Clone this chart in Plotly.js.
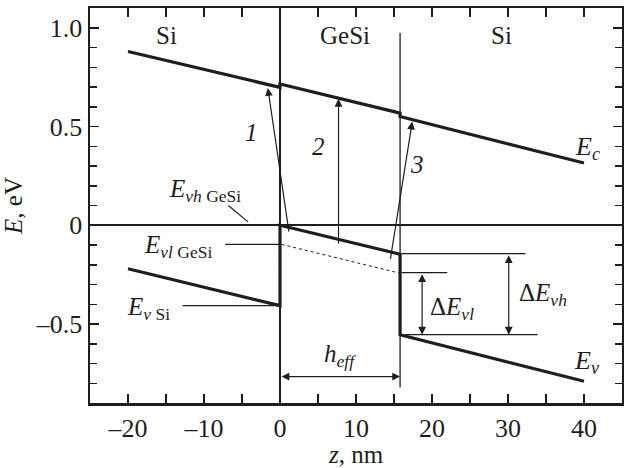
<!DOCTYPE html>
<html>
<head>
<meta charset="utf-8">
<script src="https://cdn.plot.ly/plotly-3.0.1.min.js"></script>
<style>html,body{margin:0;padding:0;background:#fff;}#chart{width:624px;height:468px;}</style>
</head>
<body>
<div id="chart"></div>
<script>
// Conduction band E_c (Si | GeSi | Si)
const ecZ = [-20, 0, 0, 15.8, 15.8, 40];
const ecE = [0.88, 0.698, 0.715, 0.568, 0.551, 0.315];
// Valence band E_v (heavy holes in GeSi)
const evZ = [-20, 0, 0, 15.8, 15.8, 40];
const evE = [-0.22, -0.407, 0, -0.147, -0.555, -0.79];
// Light-hole valence band in GeSi (dotted)
const evlZ = [0.2, 15.8];
const evlE = [-0.097, -0.243];
// Right interface line
const ifaceZ = [15.8, 15.8];
const ifaceE = [0.975, -0.82];
// Reference levels of the band offsets
const dEvlTopZ = [16, 22];       const dEvlTopE = [-0.24, -0.24];
const dEvhTopZ = [16, 32.3];     const dEvhTopE = [-0.144, -0.144];
const dEvBotZ = [16.5, 33.9];    const dEvBotE = [-0.554, -0.554];
// Leader lines for labels
const leadVhZ = [-6.8, -4.2];    const leadVhE = [0.10, 0.017];
const leadVlZ = [-7.2, 0];       const leadVlE = [-0.097, -0.097];
const leadVSiZ = [-12.8, 0];     const leadVSiE = [-0.407, -0.407];
// Optical transitions 1, 2, 3: [from z, from E, to z, to E]
const trans1 = [1.2, -0.04, -1.6, 0.695];
const trans2 = [7.7, -0.10, 7.7, 0.64];
const trans3 = [14.5, -0.178, 17.4, 0.525];
// Double arrows: [z1, E1, z2, E2]
const heffArrow = [0, -0.766, 15.8, -0.766];
const dEvlArrow = [18.7, -0.24, 18.7, -0.554];
const dEvhArrow = [30.1, -0.144, 30.1, -0.554];
// Ticks
const xTickVals = [-20, -10, 0, 10, 20, 30, 40];
const xTickText = ['\u201320', '\u201310', '0', '10', '20', '30', '40'];
const yTickVals = [-0.5, 0, 0.5, 1.0];
const yTickText = ['\u20130.5', '0', '0.5', '1.0'];

const ink = '#1e1e1e';
const font = 'Liberation Serif';

function seg(x, y, w, dash) {
  return {x: x, y: y, mode: 'lines', type: 'scatter', hoverinfo: 'skip',
          line: {color: ink, width: w, dash: dash || 'solid'}, showlegend: false};
}

const traces = [
  seg(ecZ, ecE, 3.2),
  seg(evZ, evE, 3.2),
  seg(evlZ, evlE, 1, 'dot'),
  seg(ifaceZ, ifaceE, 1.3),
  seg(dEvlTopZ, dEvlTopE, 1.3),
  seg(dEvhTopZ, dEvhTopE, 1.3),
  seg(dEvBotZ, dEvBotE, 1.3),
  seg(leadVhZ, leadVhE, 1.2),
  seg(leadVlZ, leadVlE, 1.2),
  seg(leadVSiZ, leadVSiE, 1.2)
];

function arrow(a, both) {
  const o = {x: a[2], y: a[3], ax: a[0], ay: a[1], xref: 'x', yref: 'y', axref: 'x', ayref: 'y',
    text: '', showarrow: true, arrowhead: 2, arrowsize: 1.3, arrowwidth: 1.2, arrowcolor: ink,
    standoff: 0, startstandoff: 0};
  if (both) { o.arrowside = 'end+start'; o.startarrowhead = 2; o.startarrowsize = 1.3; }
  return o;
}
function label(x, y, text, size) {
  return {x: x, y: y, xref: 'x', yref: 'y', text: text, showarrow: false,
          font: {family: font, size: size || 25, color: ink}, xanchor: 'center', yanchor: 'middle'};
}

const annotations = [
  arrow(trans1), arrow(trans2), arrow(trans3),
  arrow(heffArrow, true), arrow(dEvlArrow, true), arrow(dEvhArrow, true),
  label(-15, 0.96, 'Si'),
  label(8.6, 0.96, 'GeSi'),
  label(29.2, 0.96, 'Si'),
  label(40.4, 0.39, '<i>E</i><sub><i>c</i></sub>', 26),
  label(40.4, -0.69, '<i>E</i><sub><i>v</i></sub>', 26),
  label(-3.7, 0.47, '<i>1</i>'),
  label(5, 0.40, '<i>2</i>'),
  label(18, 0.31, '<i>3</i>'),
  label(-9.9, 0.175, '<i>E</i><sub><i>vh</i> GeSi</sub>'),
  label(-13.4, -0.11, '<i>E</i><sub><i>vl</i> GeSi</sub>'),
  label(-17.3, -0.42, '<i>E</i><sub><i>v</i> Si</sub>'),
  label(22.6, -0.42, '\u0394<i>E</i><sub><i>vl</i></sub>'),
  label(34.6, -0.35, '\u0394<i>E</i><sub><i>vh</i></sub>'),
  label(7.9, -0.66, '<i>h</i><sub><i>eff</i></sub>')
];

const axisCommon = {
  showline: true, linewidth: 2.5, linecolor: ink, mirror: 'ticks',
  ticks: 'inside', ticklen: 9, tickwidth: 1.5, tickcolor: ink,
  showgrid: false, zeroline: true, zerolinewidth: 2, zerolinecolor: ink,
  tickfont: {family: font, size: 26, color: ink}
};

const layout = {
  width: 624, height: 468,
  margin: {l: 90, r: 2, t: 8, b: 65},
  paper_bgcolor: '#fff', plot_bgcolor: '#fff',
  showlegend: false,
  font: {family: font, color: ink},
  xaxis: Object.assign({}, axisCommon, {
    range: [-25, 45], tickvals: xTickVals, ticktext: xTickText,
    minor: {dtick: 5, tick0: 0, ticks: 'inside', ticklen: 9, tickwidth: 1.5, tickcolor: ink},
    title: {text: '<i>z</i>, nm', font: {family: font, size: 25, color: ink}, standoff: 4}
  }),
  yaxis: Object.assign({}, axisCommon, {
    range: [-0.9, 1.1], tickvals: yTickVals, ticktext: yTickText,
    minor: {dtick: 0.1, tick0: 0, ticks: 'inside', ticklen: 7, tickwidth: 1.5, tickcolor: ink},
    title: {text: '<i>E</i>, eV', font: {family: font, size: 25, color: ink}, standoff: 12}
  }),
  annotations: annotations
};

Plotly.newPlot('chart', traces, layout, {staticPlot: true, displayModeBar: false});
</script>
</body>
</html>
